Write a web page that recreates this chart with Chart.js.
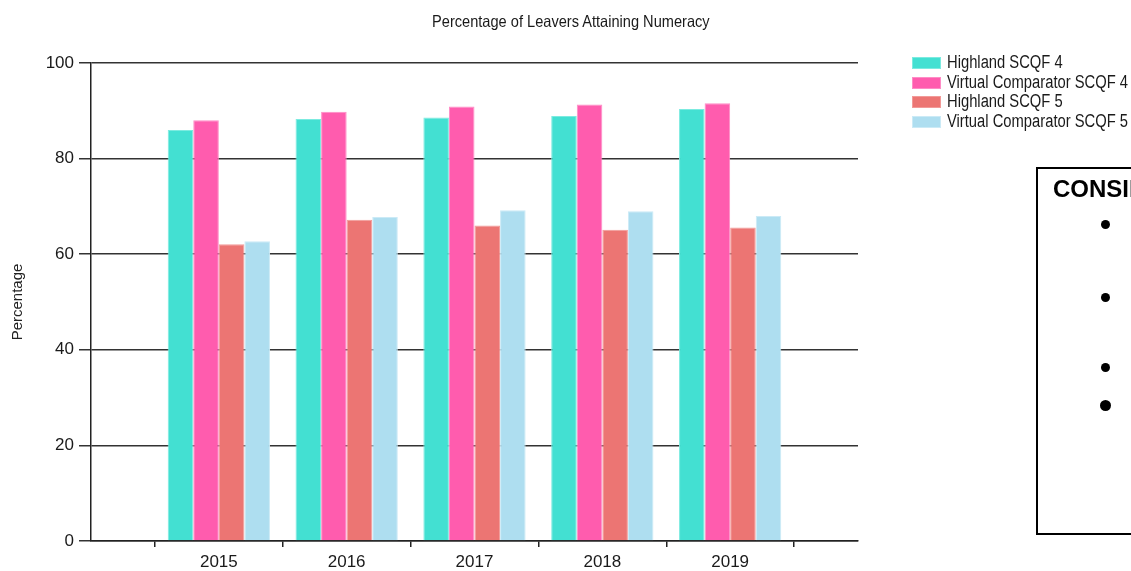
<!DOCTYPE html>
<html>
<head>
<meta charset="utf-8">
<script src="https://cdn.jsdelivr.net/npm/chart.js@4.4.1/dist/chart.umd.min.js"></script>
<style>
  html, body { margin: 0; padding: 0; background: #fff; }
  body { width: 1131px; height: 571px; position: relative; overflow: hidden; }
  #c { position: absolute; left: 0; top: 0; }
  #title { position: absolute; left: 0; width: 1142px; top: 11px; text-align: center;
    font: 16.5px/20px "Liberation Sans", Arial, sans-serif; color: #1a1a1a; }
  #title span { display: inline-block; transform: scaleX(0.885); transform-origin: center; white-space: nowrap; }
  #legend { position: absolute; left: 912px; top: 53px; width: 400px; font: 18px/19.5px "Liberation Sans", Arial, sans-serif; color: #1a1a1a; }
  .row { position: relative; height: 19.5px; white-space: nowrap; }
  .row .tx { position: absolute; left: 35px; top: 0; width: max-content; white-space: nowrap; display: inline-block; transform: scaleX(0.82); transform-origin: left center; }
  .sw { position: absolute; left: 0; top: 4.3px; width: 29px; height: 12px; box-sizing: border-box; }
  #box { position: absolute; left: 1036px; top: 167px; width: 300px; height: 368px; box-sizing: border-box;
    border: 2px solid #000; }
  #box h3 { margin: 0; position: absolute; left: 15px; top: 5px; font: bold 24px/30px "Liberation Sans", sans-serif; color: #000; white-space: nowrap; }
  .bul { position: absolute; border-radius: 50%; background: #000; }
</style>
</head>
<body>
<canvas id="c" width="1131" height="571"></canvas>
<div id="title"><span></span></div>
<div id="legend"></div>
<div id="box"><h3>CONSIDERATIONS</h3></div>
<script>
const chartTitle = "Percentage of Leavers Attaining Numeracy";
const yAxisTitle = "Percentage";
const categories = ["2015", "2016", "2017", "2018", "2019"];
const seriesNames = ["Highland SCQF 4", "Virtual Comparator SCQF 4", "Highland SCQF 5", "Virtual Comparator SCQF 5"];
const highlandSCQF4 = [86.0, 88.3, 88.6, 88.9, 90.4];
const virtualComparatorSCQF4 = [88.0, 89.8, 90.9, 91.3, 91.6];
const highlandSCQF5 = [62.1, 67.2, 66.0, 65.1, 65.6];
const virtualComparatorSCQF5 = [62.7, 67.8, 69.2, 69.0, 68.0];
const yTicks = [0, 20, 40, 60, 80, 100];

const fills = ["#43E0D2", "#FF5CAE", "#EC7573", "#AEDEF0"];
const edges = ["#7CEBE0", "#FF8CC6", "#F29A98", "#CBEAF6"];

// pad one empty slot on each side so the axis shows half a category at each end
const labels = ["", ...categories, ""];
const pad = arr => [null, ...arr, null];
const seriesValues = [highlandSCQF4, virtualComparatorSCQF4, highlandSCQF5, virtualComparatorSCQF5];

const datasets = seriesValues.map((vals, i) => ({
  label: seriesNames[i],
  data: pad(vals),
  backgroundColor: fills[i],
  borderColor: edges[i],
  borderWidth: 1,
  categoryPercentage: 0.8,
  barPercentage: 1.0
}));

document.querySelector("#title span").textContent = chartTitle;
const lg = document.getElementById("legend");
seriesNames.forEach((n, i) => {
  const r = document.createElement("div"); r.className = "row";
  const s = document.createElement("span"); s.className = "sw";
  s.style.background = fills[i]; s.style.border = "1px solid " + edges[i];
  const t = document.createElement("span"); t.className = "tx"; t.textContent = n;
  r.appendChild(s); r.appendChild(t);
  lg.appendChild(r);
});

// bullets of the clipped side panel
const box = document.getElementById("box");
[[224, 9], [297, 9], [367, 9], [405, 11]].forEach(([cy, d]) => {
  const b = document.createElement("div"); b.className = "bul";
  b.style.width = d + "px"; b.style.height = d + "px";
  b.style.left = (1105 - d / 2 - 1038) + "px"; b.style.top = (cy - d / 2 - 169) + "px";
  box.appendChild(b);
});

const tickFont = { family: "'Liberation Sans', Arial, sans-serif", size: 17 };

new Chart(document.getElementById("c"), {
  type: "bar",
  data: { labels, datasets },
  options: {
    responsive: false,
    animation: false,
    devicePixelRatio: 1,
    layout: { padding: { left: 0, top: 63, right: 273, bottom: 0 } },
    plugins: { legend: { display: false }, title: { display: false }, tooltip: { enabled: false } },
    scales: {
      x: {
        type: "category",
        offset: false,
        grid: { offset: true, drawOnChartArea: false, drawTicks: true, tickLength: 6, color: "#222", lineWidth: 1.5 },
        border: { display: true, color: "#222", width: 1.5 },
        ticks: { font: tickFont, color: "#1a1a1a", maxRotation: 0, autoSkip: false, padding: 5 },
        afterFit: s => { s.height = 30; }
      },
      y: {
        min: 0, max: 100,
        afterBuildTicks: s => { s.ticks = yTicks.map(v => ({ value: v })); },
        grid: { color: "#333", lineWidth: 1.5, tickLength: 12, drawTicks: true },
        border: { display: true, color: "#222", width: 1.5 },
        ticks: { font: tickFont, color: "#1a1a1a", padding: 5 },
        title: { display: true, text: yAxisTitle, color: "#222",
          font: { family: "'Liberation Sans', Arial, sans-serif", size: 15 }, padding: { top: 9, bottom: 0 } },
        afterFit: s => { s.width = 91; }
      }
    }
  }
});
</script>
</body>
</html>
